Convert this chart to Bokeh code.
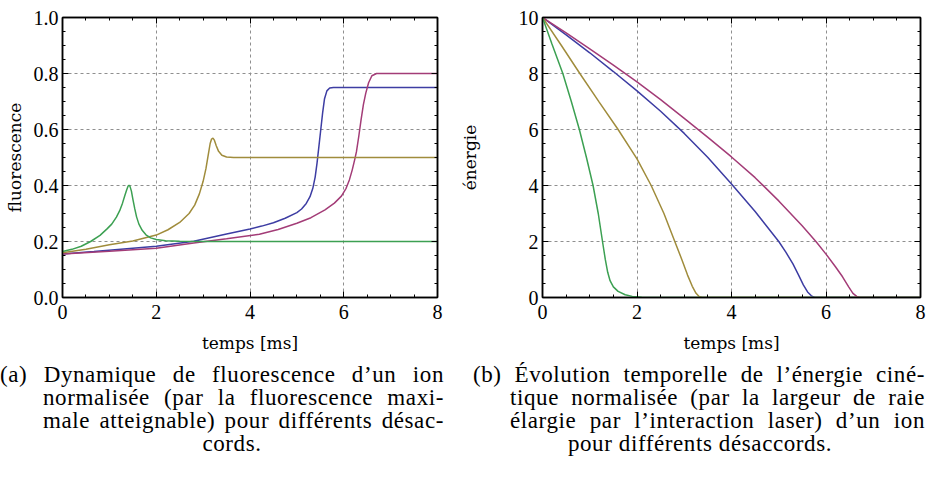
from bokeh.plotting import figure
from bokeh.models import FixedTicker, LinearAxis, Range1d, Div, PrintfTickFormatter
from bokeh.layouts import column, row
from bokeh.embed import file_html
from bokeh.resources import INLINE

# ---------------- data ----------------
x_ticks = [0, 2, 4, 6, 8]
x_minor = [0.5 * i for i in range(17)]
fluo_y_ticks = [0.0, 0.2, 0.4, 0.6, 0.8, 1.0]
fluo_y_minor = [0.05 * i for i in range(21)]
ener_y_ticks = [0, 2, 4, 6, 8, 10]
ener_y_minor = [0.5 * i for i in range(21)]

# fluorescence (panel a)
fluo_blue_t = [0, 0.67, 1.5, 2.0, 2.8, 3.5, 4.0, 4.25, 4.5, 4.75, 5.0, 5.1, 5.2, 5.28, 5.34, 5.39, 5.43,
               5.47, 5.51, 5.55, 5.59, 5.64, 5.7, 5.78, 8.0]
fluo_blue_v = [0.155, 0.164, 0.176, 0.183, 0.201, 0.227, 0.245, 0.255, 0.267, 0.283, 0.303, 0.316, 0.336,
               0.36, 0.39, 0.43, 0.48, 0.54, 0.60, 0.66, 0.71, 0.738, 0.748, 0.75, 0.75]

fluo_mag_t = [0, 1.0, 2.0, 2.8, 3.5, 4.2, 4.6, 5.0, 5.3, 5.6, 5.8, 5.95, 6.05, 6.12, 6.18, 6.23, 6.27,
              6.32, 6.37, 6.42, 6.47, 6.53, 6.6, 6.7, 8.0]
fluo_mag_v = [0.155, 0.165, 0.176, 0.195, 0.21, 0.226, 0.243, 0.265, 0.285, 0.313, 0.337, 0.362, 0.39,
              0.42, 0.455, 0.49, 0.52, 0.575, 0.635, 0.69, 0.73, 0.767, 0.792, 0.80, 0.80]

fluo_oli_t = [0, 0.5, 1.0, 1.5, 2.0, 2.25, 2.5, 2.7, 2.82, 2.92, 3.0, 3.06, 3.11, 3.15, 3.18, 3.21,
              3.24, 3.28, 3.33, 3.4, 3.5, 3.65, 8.0]
fluo_oli_v = [0.16, 0.172, 0.188, 0.202, 0.223, 0.242, 0.268, 0.30, 0.33, 0.37, 0.415, 0.46, 0.51,
              0.55, 0.566, 0.569, 0.562, 0.542, 0.522, 0.508, 0.502, 0.50, 0.50]

fluo_grn_t = [0, 0.2, 0.4, 0.6, 0.8, 0.95, 1.05, 1.15, 1.22, 1.28, 1.33, 1.37, 1.40, 1.42, 1.44, 1.47,
              1.5, 1.54, 1.58, 1.63, 1.7, 1.78, 1.88, 2.0, 2.2, 2.5, 3.0, 8.0]
fluo_grn_v = [0.164, 0.172, 0.183, 0.20, 0.222, 0.245, 0.262, 0.287, 0.31, 0.337, 0.364, 0.385, 0.398,
              0.401, 0.397, 0.38, 0.352, 0.318, 0.288, 0.262, 0.24, 0.224, 0.213, 0.207, 0.203, 0.201,
              0.20, 0.20]

# kinetic energy (panel b)
ener_blue_t = [0, 0.5, 1.0, 1.5, 2.0, 2.5, 3.0, 3.5, 4.0, 4.5, 5.0, 5.15, 5.3, 5.42, 5.52, 5.61, 5.69,
               5.76, 8.0]
ener_blue_v = [10, 9.38, 8.74, 8.07, 7.38, 6.65, 5.86, 5.0, 4.05, 3.07, 2.0, 1.62, 1.2, 0.8, 0.45, 0.2,
               0.06, 0.0, 0.0]

ener_mag_t = [0, 0.5, 1.0, 1.5, 2.0, 2.5, 3.0, 3.5, 4.0, 4.5, 5.0, 5.5, 5.8, 6.0, 6.2, 6.35, 6.48, 6.57,
              6.65, 6.72, 8.0]
ener_mag_v = [10, 9.45, 8.88, 8.3, 7.7, 7.07, 6.4, 5.72, 5.02, 4.28, 3.45, 2.55, 1.97, 1.55, 1.1, 0.74,
              0.38, 0.15, 0.04, 0.0, 0.0]

ener_oli_t = [0, 0.4, 0.79, 1.2, 1.6, 2.0, 2.3, 2.57, 2.8, 2.95, 3.07, 3.17, 3.25, 3.32, 3.38, 8.0]
ener_oli_v = [10, 9.0, 8.0, 6.98, 6.0, 4.95, 4.0, 3.0, 2.0, 1.35, 0.8, 0.4, 0.15, 0.03, 0.0, 0.0]

ener_grn_t = [0, 0.2, 0.43, 0.61, 0.78, 0.93, 1.07, 1.18, 1.27, 1.33, 1.38, 1.43, 1.5, 1.6, 1.75, 1.9,
              2.1, 2.4, 8.0]
ener_grn_v = [10, 9.05, 8.0, 7.0, 6.0, 5.0, 4.0, 3.0, 2.0, 1.35, 0.9, 0.6, 0.38, 0.22, 0.1, 0.04, 0.01,
              0.0, 0.0]

caption_a = ["(a) Dynamique de fluorescence d\u2019un ion",
             "normalisée (par la fluorescence maxi-",
             "male atteignable) pour différents désac-",
             "cords."]
caption_b = ["(b) Évolution temporelle de l\u2019énergie ciné-",
             "tique normalisée (par la largeur de raie",
             "élargie par l\u2019interaction laser) d\u2019un ion",
             "pour différents désaccords."]

# ---------------- style ----------------
C_BLUE = "#3d3da3"
C_MAG = "#a33c77"
C_OLI = "#a08c3c"
C_GRN = "#3ca052"
SERIF = "Liberation Serif, Times New Roman, Times, DejaVu Serif, Noto Serif, serif"
LABEL_FONT = "DejaVu Serif, Liberation Serif, Noto Serif, serif"


def style_axis(ax, show_labels=True):
    ax.axis_line_color = "black"
    ax.axis_line_width = 1.5
    ax.major_tick_in = 6
    ax.major_tick_out = 0
    ax.minor_tick_in = 3
    ax.minor_tick_out = 0
    ax.major_tick_line_color = "black"
    ax.minor_tick_line_color = "black"
    ax.major_tick_line_width = 1
    ax.minor_tick_line_width = 1
    ax.major_label_text_font = SERIF
    ax.major_label_text_color = "black"
    if show_labels:
        ax.major_label_text_font_size = "20px"
    else:
        ax.formatter = PrintfTickFormatter(format="")
        ax.major_label_text_font_size = "1px"
        ax.major_label_standoff = 0
    ax.axis_label_text_font = LABEL_FONT
    ax.axis_label_text_font_size = "17px"
    ax.axis_label_text_font_style = "normal"
    ax.axis_label_text_color = "black"


def make_panel(w, yr, yt, ym, ygrid, ylabel, left, right, top, bottom, yfmt=None, ylabel_standoff=6):
    p = figure(width=w, height=355, x_range=Range1d(0, 8), y_range=Range1d(*yr),
               output_backend="svg", toolbar_location=None,
               min_border_left=left, min_border_right=right,
               min_border_top=top, min_border_bottom=bottom,
               background_fill_color="white", border_fill_color="white")
    p.outline_line_color = "black"
    p.outline_line_width = 1.5

    p.xaxis.ticker = FixedTicker(ticks=x_ticks, minor_ticks=x_minor)
    p.yaxis.ticker = FixedTicker(ticks=yt, minor_ticks=ym)
    if yfmt:
        p.yaxis.formatter = PrintfTickFormatter(format=yfmt)
    for ax in p.xaxis:
        style_axis(ax)
        ax.major_label_standoff = 7
        ax.axis_label = "temps [ms]"
        ax.axis_label_standoff = 11
    for ax in p.yaxis:
        style_axis(ax)
        ax.major_label_standoff = 4
        ax.axis_label = ylabel
        ax.axis_label_standoff = ylabel_standoff

    top_ax = LinearAxis(ticker=FixedTicker(ticks=x_ticks, minor_ticks=x_minor))
    style_axis(top_ax, show_labels=False)
    p.add_layout(top_ax, "above")
    right_ax = LinearAxis(ticker=FixedTicker(ticks=yt, minor_ticks=ym))
    style_axis(right_ax, show_labels=False)
    p.add_layout(right_ax, "right")

    p.xgrid.ticker = FixedTicker(ticks=[2, 4, 6])
    p.ygrid.ticker = FixedTicker(ticks=ygrid)
    for g in (p.xgrid, p.ygrid):
        g.grid_line_color = "#8f8f8f"
        g.grid_line_dash = "3 3"
        g.grid_line_width = 1
    return p


p1 = make_panel(450, (0, 1), fluo_y_ticks, fluo_y_minor, [0.2, 0.4, 0.6, 0.8], "fluorescence",
                62, 13, 17, 56, yfmt="%.1f", ylabel_standoff=6)
p1.line(fluo_blue_t, fluo_blue_v, line_color=C_BLUE, line_width=1.5)
p1.line(fluo_mag_t, fluo_mag_v, line_color=C_MAG, line_width=1.5)
p1.line(fluo_oli_t, fluo_oli_v, line_color=C_OLI, line_width=1.5)
p1.line(fluo_grn_t, fluo_grn_v, line_color=C_GRN, line_width=1.5)

p2 = make_panel(476, (0, 10), ener_y_ticks, ener_y_minor, [2, 4, 6, 8], "énergie",
                92, 6, 15, 57, ylabel_standoff=36)
p2.line(ener_blue_t, ener_blue_v, line_color=C_BLUE, line_width=1.5)
p2.line(ener_mag_t, ener_mag_v, line_color=C_MAG, line_width=1.5)
p2.line(ener_oli_t, ener_oli_v, line_color=C_OLI, line_width=1.5)
p2.line(ener_grn_t, ener_grn_v, line_color=C_GRN, line_width=1.5)


def cap_html(lines, x0, x_ind, x1, xc, top0):
    lh = 23
    parts = []
    just = "text-align:justify;text-align-last:justify;white-space:nowrap;"
    parts.append(f'<div style="position:absolute;left:{x0}px;top:{top0}px;width:{x1 - x0}px;{just}">{lines[0]}</div>')
    parts.append(f'<div style="position:absolute;left:{x_ind}px;top:{top0 + lh}px;width:{x1 - x_ind}px;{just}">{lines[1]}</div>')
    parts.append(f'<div style="position:absolute;left:{x_ind}px;top:{top0 + 2 * lh}px;width:{x1 - x_ind}px;{just}">{lines[2]}</div>')
    parts.append(f'<div style="position:absolute;left:{xc - 200}px;top:{top0 + 3 * lh}px;width:400px;text-align:center;white-space:nowrap;">{lines[3]}</div>')
    return "".join(parts)


html = ('<div style="position:relative;width:926px;height:132px;'
        'font-family:\'Liberation Serif\',\'Times New Roman\',Times,\'DejaVu Serif\',serif;'
        'font-size:23px;letter-spacing:0.6px;line-height:23px;color:black;">'
        + cap_html(caption_a, 0, 43, 444, 232, 8)
        + cap_html(caption_b, 473, 510, 925, 700, 8)
        + '</div>')
cap = Div(text=html, width=926, height=132, margin=0)

layout = column(row(p1, p2, spacing=0), cap, spacing=0)

with open("out.html", "w") as f:
    f.write(file_html(layout, INLINE))
